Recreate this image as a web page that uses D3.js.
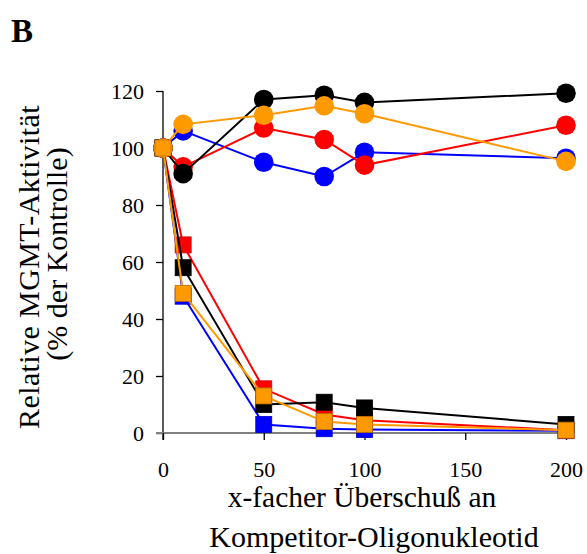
<!DOCTYPE html>
<html>
<head>
<meta charset="utf-8">
<script src="https://cdn.jsdelivr.net/npm/d3@7"></script>
<style>
  body { margin: 0; background: #fff; }
  svg { display: block; font-family: "Liberation Serif", "Times New Roman", serif; }
  .tick text { font-size: 22px; fill: #000; }
</style>
</head>
<body>
<svg id="chart" width="587" height="554"></svg>
<script>
// x positions (fold excess of competitor oligo)
const excess = [0, 10, 50, 80, 100, 200];

// circle series
const blueCircle   = [100, 106, 95, 90, 98.5, 96.4];
const redCircle    = [100, 93.4, 107, 103, 94, 108];
const blackCircle  = [100, 91, 117, 118.5, 116, 119.2];
const orangeCircle = [100, 108.3, 111.5, 114.8, 112, 95.3];

// square series
const blueSquare   = [100, 48, 3, 1.5, 1.2, 0.8];
const redSquare    = [100, 66, 15.5, 6.5, 4.5, 1];
const blackSquare  = [100, 58, 10, 10.8, 8.8, 3];
const orangeSquare = [100, 49, 13, 4, 3, 1];

const xTicks = [0, 50, 100, 150, 200];
const yTicks = [0, 20, 40, 60, 80, 100, 120];

// drawing order: blue, red, black, orange
const series = [
  {color: '#0000ff', edge: '#0000cc', circles: blueCircle,   squares: blueSquare},
  {color: '#ff0000', edge: '#cc0000', circles: redCircle,    squares: redSquare},
  {color: '#000000', edge: '#000000', circles: blackCircle,  squares: blackSquare},
  {color: '#ff9900', edge: '#b86e00', circles: orangeCircle, squares: orangeSquare}
];

const svg = d3.select('#chart');

let x = d3.scaleLinear().domain([0, 200]).range([163, 566]);
let y = d3.scaleLinear().domain([0, 120]).range([433, 91]);

// panel letter
svg.append('text')
    .attr('x', 11).attr('y', 42)
    .style('font-size', '33px').style('font-weight', 'bold')
    .text('B');

// y axis
let yAxis = svg.append('g')
    .attr('transform', `translate(${x(0)},0)`)
    .call(d3.axisLeft(y).tickValues(yTicks).tickSize(7).tickPadding(12).tickSizeOuter(0))
    .attr('font-family', null).attr('font-size', null);
yAxis.select('.domain').attr('stroke', '#000').attr('stroke-width', 1.3)
    .attr('d', `M0,${y(120)}V${y(0) + 7}`);
yAxis.selectAll('.tick line').attr('stroke', '#000').attr('stroke-width', 1.3);

// x axis
let xAxis = svg.append('g')
    .attr('transform', `translate(0,${y(0)})`)
    .call(d3.axisBottom(x).tickValues(xTicks).tickSize(7).tickPadding(21).tickSizeOuter(0))
    .attr('font-family', null).attr('font-size', null);
xAxis.select('.domain').attr('stroke', '#808080').attr('stroke-width', 2)
    .attr('d', `M${x(0) - 7},0H${x(200)}`);
xAxis.selectAll('.tick line').attr('stroke', '#000').attr('stroke-width', 1.3);

let line = d3.line()
    .x((d, i) => x(excess[i]))
    .y(d => y(d));

let plot = svg.append('g');

series.forEach(function(s) {
  let g = plot.append('g');

  g.append('path')
      .datum(s.circles)
      .attr('fill', 'none')
      .attr('stroke', s.color)
      .attr('stroke-width', 2)
      .attr('d', line);

  g.append('path')
      .datum(s.squares)
      .attr('fill', 'none')
      .attr('stroke', s.color)
      .attr('stroke-width', 2)
      .attr('d', line);

  g.selectAll('circle')
      .data(s.circles)
      .enter()
      .append('circle')
      .attr('cx', (d, i) => x(excess[i]))
      .attr('cy', d => y(d))
      .attr('r', 9.8)
      .attr('fill', s.color);

  g.selectAll('rect')
      .data(s.squares)
      .enter()
      .append('rect')
      .attr('x', (d, i) => x(excess[i]) - 8)
      .attr('y', d => y(d) - 8)
      .attr('width', 16)
      .attr('height', 16)
      .attr('fill', s.color)
      .attr('stroke', s.edge)
      .attr('stroke-width', 0.8);
});

// axis titles
svg.append('text')
    .attr('transform', 'translate(39,267) rotate(-90)')
    .attr('text-anchor', 'middle')
    .style('font-size', '30px')
    .style('letter-spacing', '0.4px')
    .text('Relative MGMT-Aktivität');

svg.append('text')
    .attr('transform', 'translate(67,254) rotate(-90)')
    .attr('text-anchor', 'middle')
    .style('font-size', '30px')
    .text('(% der Kontrolle)');

svg.append('text')
    .attr('x', 362).attr('y', 507)
    .attr('text-anchor', 'middle')
    .style('font-size', '29.5px')
    .text('x-facher Überschuß an');

svg.append('text')
    .attr('x', 374).attr('y', 547)
    .attr('text-anchor', 'middle')
    .style('font-size', '30px')
    .text('Kompetitor-Oligonukleotid');
</script>
</body>
</html>
